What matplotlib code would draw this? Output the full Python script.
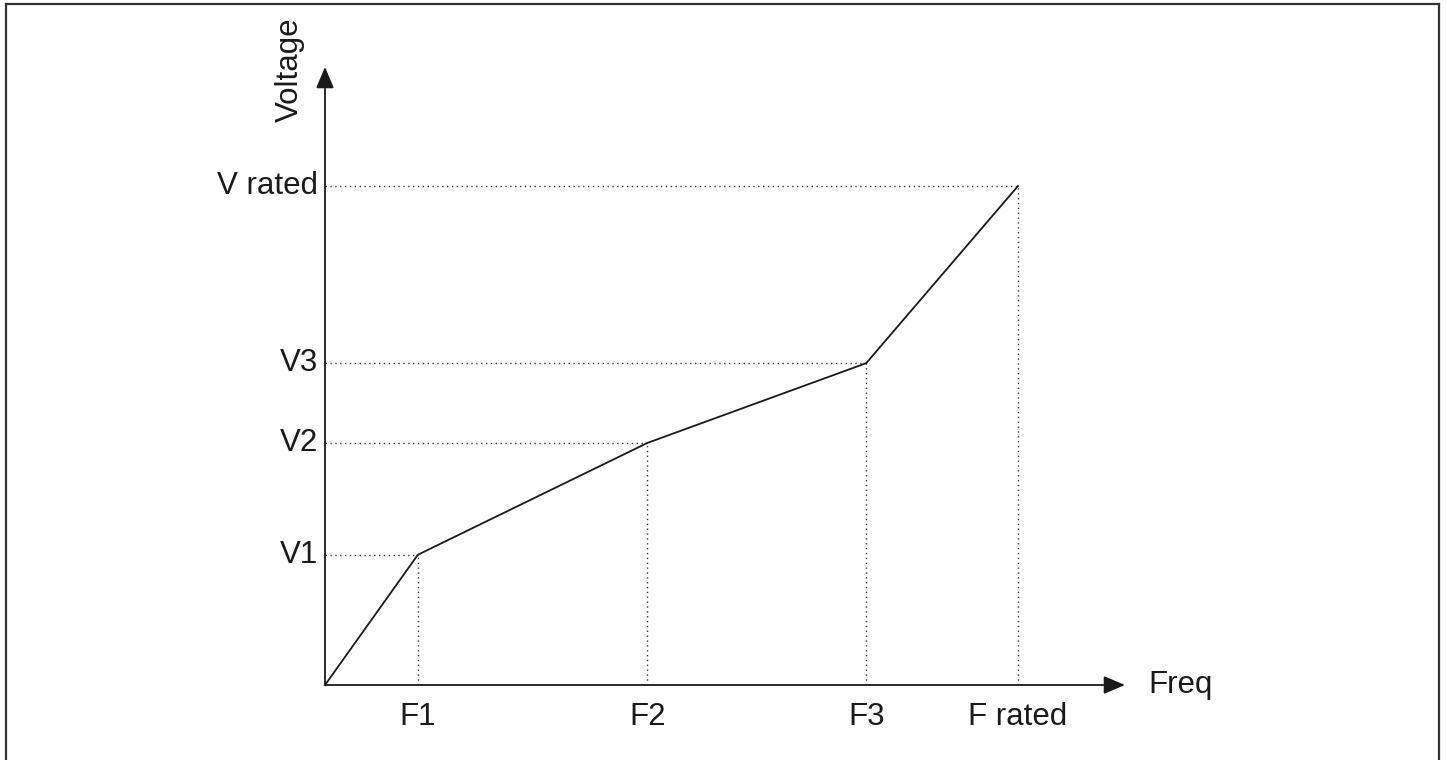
import matplotlib
matplotlib.use("Agg")
import matplotlib.pyplot as plt
from matplotlib.lines import Line2D

plt.rcParams['font.family'] = ['Liberation Sans', 'DejaVu Sans']

freq = [0, 13.4, 46.5, 78.1, 100.0]
volt = [0, 26.1, 48.5, 64.5, 100.0]
freq_labels = ["F1", "F2", "F3", "F rated"]
volt_labels = ["V1", "V2", "V3", "V rated"]

W, H = 1447, 760
fig = plt.figure(figsize=(W / 100, H / 100), dpi=100)
ax = fig.add_axes([0, 0, 1, 1])
sx = 6.93
sy = 4.99
x0, y0 = 325, 685
ax.set_xlim(-x0 / sx, (W - x0) / sx)
ax.set_ylim(-(H - y0) / sy, y0 / sy)
ax.axis('off')

# border
bc = '#333333'
fig.add_artist(Line2D([6 / W, 6 / W], [0, 1 - 4 / H], color=bc, lw=1.6, transform=fig.transFigure))
fig.add_artist(Line2D([6 / W, 1439 / W], [1 - 4 / H, 1 - 4 / H], color=bc, lw=1.6, transform=fig.transFigure))
fig.add_artist(Line2D([1439 / W, 1439 / W], [0, 1 - 4 / H], color=bc, lw=1.6, transform=fig.transFigure))

# axes arrows
xmax = (1125 - x0) / sx
ymax = (y0 - 67) / sy
astyle = '-|>,head_length=1.3,head_width=0.55'
ax.annotate('', xy=(xmax, 0), xytext=(0, 0),
            arrowprops=dict(arrowstyle=astyle, color='#1a1a1a', lw=1.3, shrinkA=0, shrinkB=0))
ax.annotate('', xy=(0, ymax), xytext=(0, 0),
            arrowprops=dict(arrowstyle=astyle, color='#1a1a1a', lw=1.3, shrinkA=0, shrinkB=0))

# dotted guides
for f, v in zip(freq[1:], volt[1:]):
    ax.plot([0, f], [v, v], color='#333333', lw=1.0, ls=(0, (1, 2.5)))
    ax.plot([f, f], [0, v], color='#333333', lw=1.0, ls=(0, (1, 2.5)))

# curve
ax.plot(freq, volt, color='#1a1a1a', lw=1.3, solid_joinstyle='miter')

fs = 22.5
for f, lab in zip(freq[1:], freq_labels):
    ax.text(f, -32 / sy, lab, ha='center', va='center', fontsize=fs, color='#1a1a1a')
for v, lab in zip(volt[1:], volt_labels):
    ax.text(-7 / sx, v, lab, ha='right', va='center', fontsize=fs, color='#1a1a1a')

ax.text((1148 - x0) / sx, 0, "Freq", ha='left', va='center', fontsize=fs, color='#1a1a1a')
ax.text((290 - x0) / sx, (y0 - 70) / sy, "Voltage", ha='center', va='center', rotation=90, fontsize=fs, color='#1a1a1a')

fig.savefig("out.png", dpi=100)
